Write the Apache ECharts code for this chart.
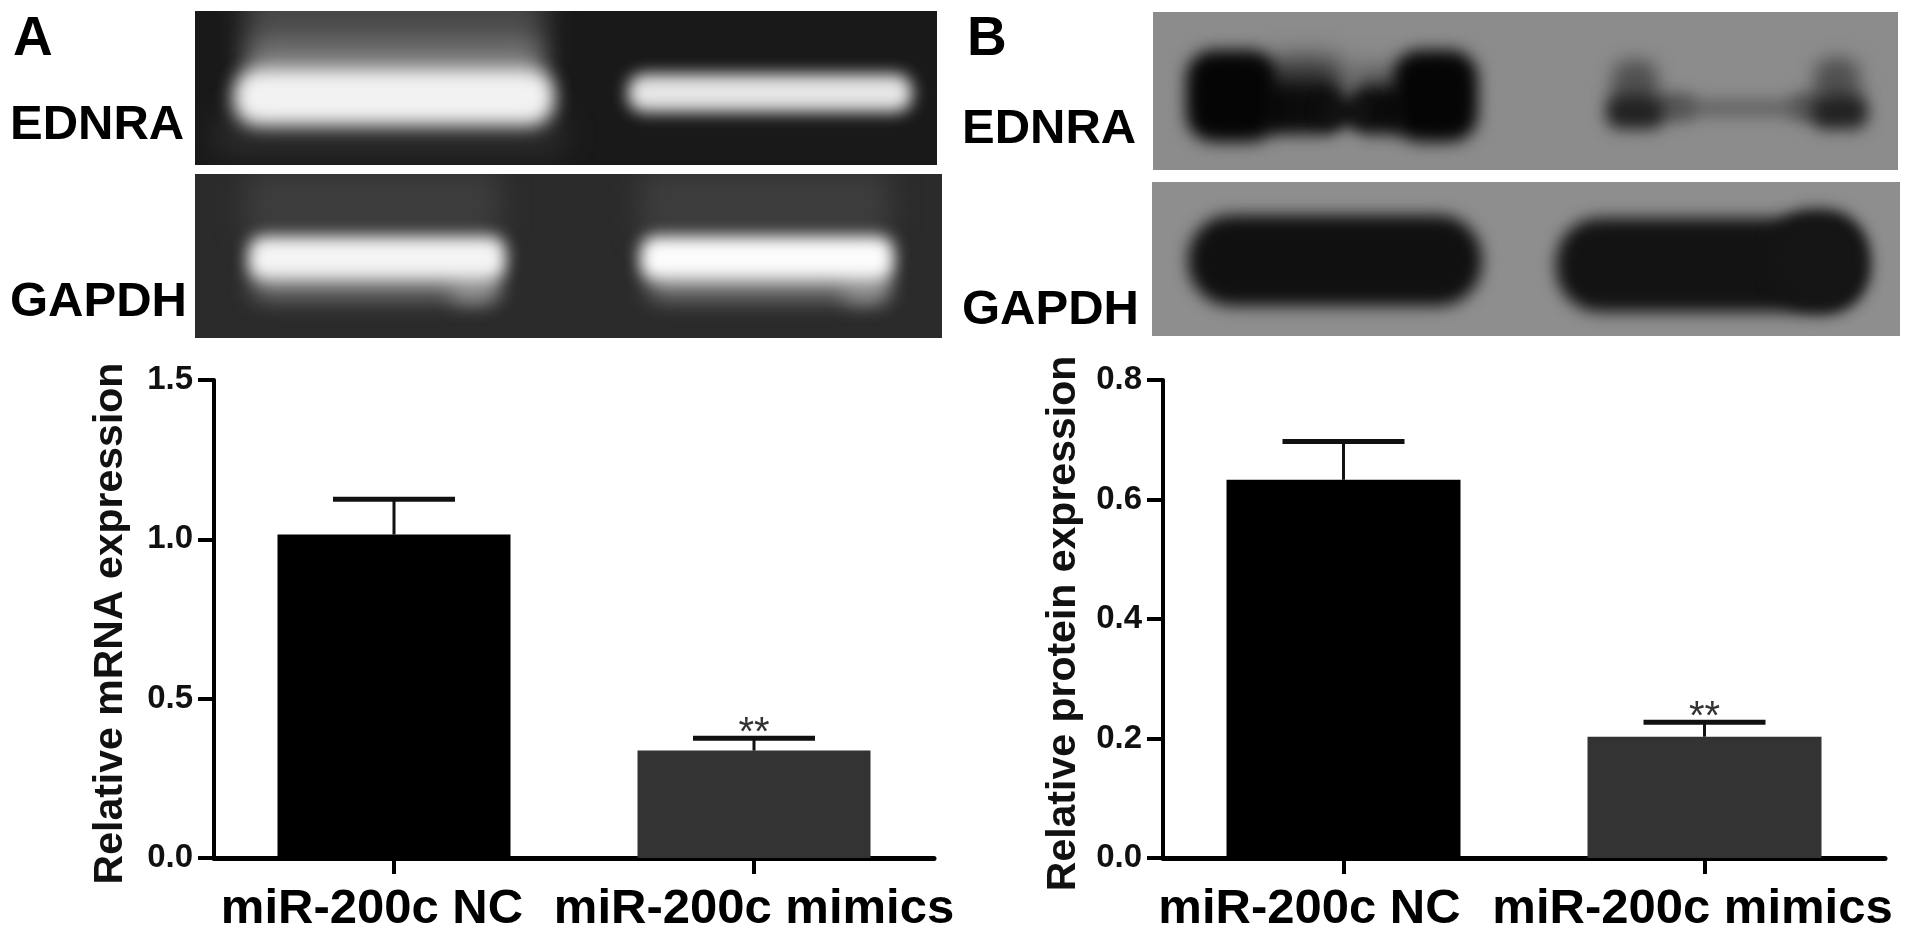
<!DOCTYPE html>
<html>
<head>
<meta charset="utf-8">
<title>miR-200c EDNRA</title>
<script src="https://cdn.jsdelivr.net/npm/echarts@6/dist/echarts.min.js"></script>
<style>
  html, body { margin: 0; padding: 0; background: #fff; }
  #main { width: 1913px; height: 934px; }
</style>
</head>
<body>
<div id="main"></div>
<script>
// values
const categories = ["miR-200c NC", "miR-200c mimics"];
const mrnaMean = [1.015, 0.337];
const mrnaUpper = [1.126, 0.376];
const proteinMean = [0.633, 0.203];
const proteinUpper = [0.697, 0.227];
const significance = ["", "**"];
const barColors = ["#000000", "#333333"];

const FONT = '"Liberation Sans", Arial, sans-serif';

// gel photos: soft blobs painted on a small canvas, then placed with graphic
// each blob: x, y, w, h, radius, blur, colour (page pixels)
function gel(x, y, w, h, bg, blobs) {
  const c = document.createElement("canvas");
  c.width = w;
  c.height = h;
  const ctx = c.getContext("2d");
  ctx.fillStyle = bg;
  ctx.fillRect(0, 0, w, h);
  blobs.forEach(function (b) {
    ctx.filter = "blur(" + b[5] + "px)";
    ctx.fillStyle = b[6];
    ctx.beginPath();
    ctx.roundRect(b[0] - x, b[1] - y, b[2], b[3], b[4]);
    ctx.fill();
  });
  return { type: "image", silent: true, style: { image: c, x: x, y: y, width: w, height: h } };
}

const gels = [
  gel(195, 11, 742, 154, "#191919", [
    [245, -10, 300, 90, 10, 14, "#4a4a4a"],
    [250, 40, 290, 40, 10, 12, "#777777"],
    [215, 115, 350, 40, 10, 14, "#2c2c2c"],
    [233, 68, 322, 58, 26, 9, "#f2f2f2"],
    [628, 74, 284, 38, 16, 8, "#e6e6e6"]
  ]),
  gel(195, 174, 747, 164, "#2b2b2b", [
    [245, 170, 255, 70, 10, 14, "#3d3d3d"],
    [640, 170, 250, 70, 10, 14, "#3d3d3d"],
    [252, 265, 240, 34, 12, 11, "#777777"],
    [648, 265, 236, 34, 12, 11, "#808080"],
    [450, 272, 50, 30, 14, 10, "#8f8f8f"],
    [842, 272, 48, 30, 14, 10, "#8f8f8f"],
    [248, 236, 258, 44, 16, 8, "#f4f4f4"],
    [640, 236, 254, 44, 16, 8, "#fcfcfc"]
  ]),
  gel(1153, 12, 745, 158, "#8c8c8c", [
    [1265, 58, 80, 54, 20, 13, "#333333"],
    [1350, 66, 50, 42, 20, 13, "#555555"],
    [1262, 84, 80, 50, 16, 8, "#0c0c0c"],
    [1352, 86, 56, 48, 16, 8, "#0c0c0c"],
    [1320, 98, 50, 28, 10, 7, "#111111"],
    [1186, 50, 92, 92, 28, 8, "#050505"],
    [1392, 50, 86, 92, 28, 8, "#050505"],
    [1612, 60, 46, 54, 18, 9, "#505050"],
    [1814, 58, 46, 54, 18, 9, "#505050"],
    [1650, 98, 180, 20, 8, 7, "#6a6a6a"],
    [1655, 94, 40, 26, 10, 8, "#555555"],
    [1790, 94, 40, 26, 10, 8, "#555555"],
    [1606, 95, 58, 34, 14, 8, "#222222"],
    [1812, 95, 56, 34, 14, 8, "#222222"]
  ]),
  gel(1152, 182, 748, 154, "#8e8e8e", [
    [1188, 215, 294, 91, 44, 8, "#101010"],
    [1556, 218, 312, 94, 44, 8, "#131313"],
    [1770, 210, 96, 100, 42, 8, "#151515"]
  ])
];

const panelLabels = [
  ["A", 13, 12, 55, "#000"],
  ["B", 967, 12, 55, "#000"],
  ["EDNRA", 10, 101, 49, "#000"],
  ["GAPDH", 10, 278, 49, "#000"],
  ["EDNRA", 962, 105, 49, "#000"],
  ["GAPDH", 962, 286, 49, "#000"]
].map(function (t) {
  return {
    type: "text",
    silent: true,
    style: { text: t[0], x: t[1], y: t[2], fill: t[4], font: "bold " + t[3] + 'px ' + FONT }
  };
});

function yAxis(grid, name, max, interval, gap) {
  return {
    type: "value",
    gridIndex: grid,
    min: 0,
    max: max,
    interval: interval,
    name: name,
    nameLocation: "center",
    nameGap: gap,
    nameTextStyle: { color: "#111", fontFamily: FONT, fontWeight: "bold", fontSize: 41, padding: [0, 0, 0, -9] },
    splitLine: { show: false },
    axisLine: { show: true, lineStyle: { color: "#000", width: 4 } },
    axisTick: { show: true, length: 16, lineStyle: { color: "#000", width: 4 } },
    axisLabel: {
      color: "#111",
      fontFamily: FONT,
      fontWeight: "bold",
      fontSize: 33,
      margin: 21,
      formatter: function (v) { return v.toFixed(1); }
    }
  };
}

function xAxis(grid, shiftA, shiftB) {
  const labelBase = { color: "#000", fontFamily: FONT, fontWeight: "bold", fontSize: 49 };
  return {
    type: "category",
    gridIndex: grid,
    data: categories,
    axisLine: { lineStyle: { color: "#000", width: 5 } },
    axisTick: { show: true, interval: 0, alignWithLabel: true, length: 16, lineStyle: { color: "#000", width: 4 } },
    axisLabel: {
      interval: 0,
      margin: 27,
      hideOverlap: false,
      formatter: function (v, i) { return (i === 0 ? "{a|" : "{b|") + v + "}"; },
      rich: {
        a: Object.assign({ padding: [0, shiftA, 0, 0] }, labelBase),
        b: Object.assign({ padding: [0, shiftB, 0, 0] }, labelBase)
      }
    }
  };
}

function bars(grid, means, width) {
  return {
    type: "bar",
    xAxisIndex: grid,
    yAxisIndex: grid,
    barWidth: width,
    silent: true,
    data: means.map(function (v, i) {
      return { value: v, itemStyle: { color: barColors[i] } };
    })
  };
}

// upper error bar with cap, stars sit above the cap
function errorBars(grid, means, upper, capWidth) {
  return {
    type: "custom",
    xAxisIndex: grid,
    yAxisIndex: grid,
    silent: true,
    z: 3,
    data: means.map(function (m, i) { return [i, m, upper[i], significance[i]]; }),
    encode: { x: 0, y: [1, 2] },
    renderItem: function (params, api) {
      const low = api.coord([api.value(0), api.value(1)]);
      const high = api.coord([api.value(0), api.value(2)]);
      const half = capWidth / 2;
      return {
        type: "group",
        children: [
          { type: "line", shape: { x1: low[0], y1: low[1], x2: high[0], y2: high[1] }, style: { stroke: "#111", lineWidth: 3 } },
          { type: "line", shape: { x1: high[0] - half, y1: high[1], x2: high[0] + half, y2: high[1] }, style: { stroke: "#111", lineWidth: 5 } },
          {
            type: "text",
            style: {
              text: significance[params.dataIndex],
              x: high[0],
              y: high[1] - 24,
              align: "center",
              verticalAlign: "top",
              fill: "#333",
              font: "40px " + FONT
            }
          }
        ]
      };
    }
  };
}

const chart = echarts.init(document.getElementById("main"));
chart.setOption({
  animation: false,
  backgroundColor: "#fff",
  graphic: { elements: gels.concat(panelLabels) },
  grid: [
    // outerBoundsMode off, otherwise v6 shrinks the grid to keep the big x labels inside
    { left: 214, width: 720, top: 380, height: 478, outerBoundsMode: "none" },
    { left: 1163, width: 722, top: 380, height: 478, outerBoundsMode: "none" }
  ],
  xAxis: [xAxis(0, 44, 0), xAxis(1, 68, 24)],
  yAxis: [
    yAxis(0, "Relative mRNA expression", 1.5, 0.5, 83),
    yAxis(1, "Relative protein expression", 0.8, 0.2, 79)
  ],
  series: [
    bars(0, mrnaMean, 233),
    errorBars(0, mrnaMean, mrnaUpper, 122),
    bars(1, proteinMean, 234),
    errorBars(1, proteinMean, proteinUpper, 122)
  ]
});
</script>
</body>
</html>
